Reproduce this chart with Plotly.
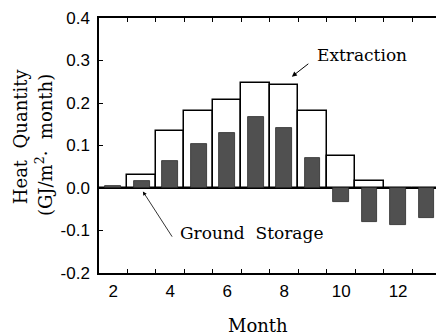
import plotly.graph_objects as go

months = [2, 3, 4, 5, 6, 7, 8, 9, 10, 11, 12, 13]
extraction = [0.0, 0.031, 0.133, 0.182, 0.207, 0.248, 0.243, 0.182, 0.075, 0.017, 0.0, 0.0]
storage = [0.004, 0.017, 0.064, 0.103, 0.130, 0.166, 0.142, 0.070, -0.034, -0.081, -0.086, -0.071]
x_labels = [2, 4, 6, 8, 10, 12]
y_ticks = [-0.2, -0.1, 0.0, 0.1, 0.2, 0.3, 0.4]
y_labels = ["-0.2", "-0.1", "0.0", "0.1", "0.2", "0.3", "0.4"]
bar_edges = [m - 0.5 for m in months] + [months[-1] + 0.5]

SERIF = "DejaVu Serif"
SANS = "Liberation Sans"
XRANGE = [1.5, 13.33]

fig = go.Figure()
fig.add_bar(x=months, y=extraction, width=1.0,
            marker=dict(color="white", line=dict(color="black", width=1.5)))
fig.add_bar(x=months, y=storage, width=0.55,
            marker=dict(color="#505050", line=dict(color="#2a2a2a", width=0.8)))
# invisible carrier trace so the label axis (x2) is drawn
fig.add_scatter(x=months, y=storage, xaxis="x2", mode="markers",
                marker=dict(opacity=0), hoverinfo="skip", showlegend=False)

fig.update_layout(
    width=436, height=335,
    margin=dict(l=99, r=0, t=18, b=62),
    paper_bgcolor="white", plot_bgcolor="white",
    barmode="overlay", showlegend=False,
    bargap=0,
    xaxis=dict(
        range=XRANGE, tickmode="array", tickvals=bar_edges,
        ticktext=["" for _ in bar_edges], ticks="inside", ticklen=4,
        tickwidth=1, tickcolor="black",
        showline=True, linecolor="black", linewidth=1.5, mirror="ticks",
        showgrid=False, zeroline=False,
    ),
    xaxis2=dict(
        overlaying="x", side="bottom", range=XRANGE,
        tickmode="array", tickvals=x_labels, ticktext=[str(v) for v in x_labels],
        ticks="", showline=False, showgrid=False, zeroline=False,
        tickfont=dict(family=SANS, size=17, color="black"),
        ticklabelstandoff=6,
    ),
    yaxis=dict(
        range=[-0.2, 0.4], tickmode="array", tickvals=y_ticks, ticktext=y_labels,
        ticks="inside", ticklen=4, tickwidth=1, tickcolor="black",
        showline=True, linecolor="black", linewidth=1.5,
        showgrid=False, zeroline=True, zerolinecolor="black", zerolinewidth=1.5,
        tickfont=dict(family=SANS, size=17, color="black"),
        ticklabelstandoff=4,
    ),
)

# Y-axis title (two lines)
fig.add_annotation(xref="paper", yref="paper", x=-0.234, y=0.537,
                   xanchor="center", yanchor="middle",
                   text="Heat\u00a0\u00a0Quantity", showarrow=False, textangle=-90,
                   font=dict(family=SERIF, size=18, color="black"))
fig.add_annotation(xref="paper", yref="paper", x=-0.163, y=0.502,
                   xanchor="center", yanchor="middle",
                   text="(GJ/m<sup>2</sup>\u00b7\u00a0\u00a0month)", showarrow=False, textangle=-90,
                   font=dict(family=SERIF, size=18, color="black"))
# X-axis title
fig.add_annotation(xref="paper", yref="paper", x=(258 - 99) / 337, y=-(325 - 273) / 255,
                   text="Month", showarrow=False, xanchor="center", yanchor="middle",
                   font=dict(family=SERIF, size=18, color="black"))

# Extraction label + arrow
fig.add_annotation(x=9.08, y=0.314, text="Extraction", showarrow=False,
                   xanchor="left", yanchor="middle",
                   font=dict(family=SERIF, size=17, color="black"))
fig.add_annotation(x=8.27, y=0.262, ax=8.90, ay=0.295, axref="x", ayref="y",
                   text="", showarrow=True, arrowhead=2, arrowsize=1, arrowwidth=1,
                   arrowcolor="black")
# Ground storage label + arrow
fig.add_annotation(x=4.27, y=-0.106, text="Ground\u00a0\u00a0Storage", showarrow=False,
                   xanchor="left", yanchor="middle",
                   font=dict(family=SERIF, size=17, color="black"))
fig.add_annotation(x=3.04, y=-0.008, ax=4.10, ay=-0.118, axref="x", ayref="y",
                   text="", showarrow=True, arrowhead=2, arrowsize=1, arrowwidth=0.8,
                   arrowcolor="black")

fig.write_html("out.html")
